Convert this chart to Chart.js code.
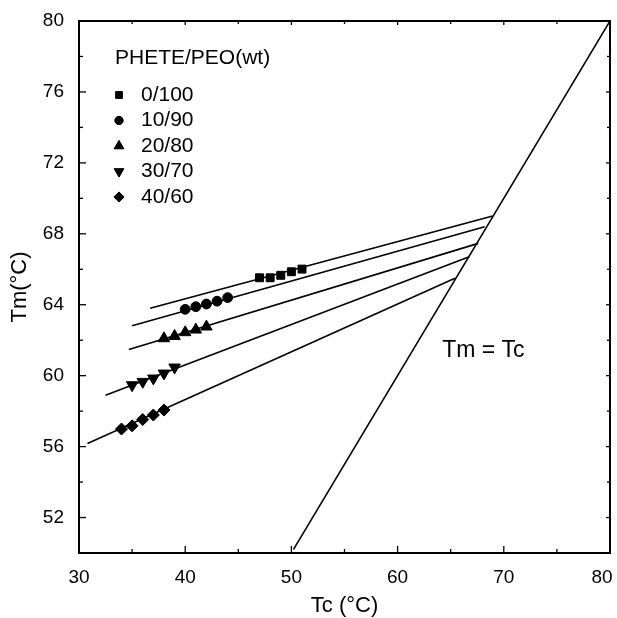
<!DOCTYPE html>
<html>
<head>
<meta charset="utf-8">
<script src="https://cdn.jsdelivr.net/npm/chart.js@4.4.1/dist/chart.umd.min.js"></script>
<style>
  html, body { margin: 0; padding: 0; background: #fff; }
</style>
</head>
<body>
<canvas id="myChart" width="617" height="618"></canvas>
<script>
// blend ratios (PHETE/PEO, wt)
const groups = ['0/100', '10/90', '20/80', '30/70', '40/60'];

// measured points: Tc (x) and Tm (y), degC
const tc0 = [47, 48, 49, 50, 51];
const tm0 = [65.52, 65.52, 65.66, 65.86, 66.01];
const tc1 = [40, 41, 42, 43, 44];
const tm1 = [63.74, 63.89, 64.04, 64.2, 64.4];
const tc2 = [38, 39, 40, 41, 42];
const tm2 = [62.1, 62.23, 62.44, 62.59, 62.76];
const tc3 = [35, 36, 37, 38, 39];
const tm3 = [59.47, 59.66, 59.85, 60.13, 60.47];
const tc4 = [34, 35, 36, 37, 38];
const tm4 = [56.99, 57.17, 57.53, 57.78, 58.06];

// Hoffman-Weeks extrapolation lines (start / end)
const fitTc0 = [36.7, 68.95];
const fitTm0 = [63.8, 69.0];
const fitTc1 = [35.0, 68.2];
const fitTm1 = [62.81, 68.4];
const fitTc2 = [34.7, 67.6];
const fitTm2 = [61.48, 67.46];
const fitTc3 = [32.5, 66.75];
const fitTm3 = [58.9, 66.7];
const fitTc4 = [30.8, 65.4];
const fitTm4 = [56.18, 65.49];

// Tm = Tc line
const eqTc = [50.2, 80];
const eqTm = [50.2, 80];

// axis ticks
const xTicks = [30, 40, 50, 60, 70, 80];
const xMinorTicks = [35, 45, 55, 65, 75];
const yTicks = [52, 56, 60, 64, 68, 72, 76, 80];
const yMinorTicks = [54, 58, 62, 66, 70, 74, 78];

const FONT = '"Liberation Sans", Arial, Helvetica, sans-serif';

const toPoints = (xs, ys) => xs.map((v, i) => ({ x: v, y: ys[i] }));

const markers = [
    { style: 'rect', radius: 5.6, rotation: 0 },
    { style: 'circle', radius: 4.9, rotation: 0 },
    { style: 'triangle', radius: 6.6, rotation: 0 },
    { style: 'triangle', radius: 6.6, rotation: 180 },
    { style: 'rectRot', radius: 6, rotation: 0 },
];

const tcs = [tc0, tc1, tc2, tc3, tc4];
const tms = [tm0, tm1, tm2, tm3, tm4];
const fitTcs = [fitTc0, fitTc1, fitTc2, fitTc3, fitTc4];
const fitTms = [fitTm0, fitTm1, fitTm2, fitTm3, fitTm4];

const datasets = [];
groups.forEach((g, i) => {
    datasets.push({
        label: g,
        data: toPoints(tcs[i], tms[i]),
        showLine: false,
        pointStyle: markers[i].style,
        pointRadius: markers[i].radius,
        pointRotation: markers[i].rotation,
        pointBackgroundColor: '#000',
        pointBorderColor: '#000',
        pointBorderWidth: 1,
    });
    datasets.push({
        label: 'fit ' + g,
        data: toPoints(fitTcs[i], fitTms[i]),
        showLine: true,
        pointRadius: 0,
        borderColor: '#000',
        borderWidth: 1.6,
    });
});
datasets.push({
    label: 'Tm = Tc',
    data: toPoints(eqTc, eqTm),
    showLine: true,
    pointRadius: 0,
    borderColor: '#000',
    borderWidth: 1.6,
});

// frame with inward ticks on all four sides
const framePlugin = {
    id: 'frame',
    afterLayout(chart) {
        // keep the last x label ("80") inside the canvas
        const items = chart.scales.x.getLabelItems(chart.chartArea);
        if (items.length) items[items.length - 1].options.translation[0] -= 8;
    },
    afterDatasetsDraw(chart) {
        const { ctx, chartArea: a, scales: { x, y } } = chart;
        ctx.save();
        ctx.strokeStyle = '#000';
        ctx.lineWidth = 2;
        ctx.strokeRect(a.left, a.top, a.right - a.left, a.bottom - a.top);
        ctx.lineWidth = 1.3;
        const tick = (x1, y1, x2, y2) => {
            ctx.beginPath();
            ctx.moveTo(x1, y1);
            ctx.lineTo(x2, y2);
            ctx.stroke();
        };
        xTicks.forEach(v => {
            const px = x.getPixelForValue(v);
            tick(px, a.bottom, px, a.bottom - 7);
            tick(px, a.top, px, a.top + 4);
        });
        xMinorTicks.forEach(v => {
            const px = x.getPixelForValue(v);
            tick(px, a.bottom, px, a.bottom - 4);
            tick(px, a.top, px, a.top + 3);
        });
        yTicks.forEach(v => {
            const py = y.getPixelForValue(v);
            tick(a.left, py, a.left + 7, py);
            tick(a.right, py, a.right - 4, py);
        });
        yMinorTicks.forEach(v => {
            const py = y.getPixelForValue(v);
            tick(a.left, py, a.left + 4, py);
            tick(a.right, py, a.right - 3, py);
        });
        ctx.restore();
    }
};

// legend box in the upper left and the Tm = Tc label
const notesPlugin = {
    id: 'notes',
    afterDraw(chart) {
        const { ctx, scales: { x, y } } = chart;
        ctx.save();
        ctx.fillStyle = '#000';
        ctx.strokeStyle = '#000';
        ctx.font = '21px ' + FONT;
        ctx.textBaseline = 'middle';
        ctx.textAlign = 'left';
        ctx.fillText('PHETE/PEO(wt)', 115, 58);
        groups.forEach((g, i) => {
            const rowY = 95 + i * 25.5;
            const m = markers[i];
            ctx.lineWidth = 1;
            Chart.helpers.drawPoint(ctx, {
                pointStyle: m.style,
                rotation: m.rotation,
                radius: m.radius * 0.85,
                borderWidth: 1,
            }, 119, rowY);
            ctx.fill();
            ctx.fillText(g, 141, rowY);
        });
        ctx.font = '23px ' + FONT;
        ctx.fillText('Tm = Tc', x.getPixelForValue(64.2), y.getPixelForValue(61.4));
        ctx.restore();
    }
};

// no extra room for half-labels at the axis ends
const noEdgePadding = s => {
    s.paddingLeft = 0;
    s.paddingRight = 0;
    s.paddingTop = 0;
    s.paddingBottom = 0;
};

const ctx = document.getElementById('myChart').getContext('2d');
const myChart = new Chart(ctx, {
    type: 'scatter',
    data: { datasets: datasets },
    options: {
        responsive: false,
        animation: false,
        layout: { autoPadding: false, padding: { top: 21, right: 7, left: 0, bottom: 0 } },
        plugins: {
            legend: { display: false },
            tooltip: { enabled: false },
        },
        scales: {
            x: {
                type: 'linear',
                min: 30,
                max: 80,
                afterBuildTicks: s => { s.ticks = xTicks.map(v => ({ value: v })); },
                afterFit: s => { s.height = 65; noEdgePadding(s); },
                grid: { display: false, drawTicks: false },
                border: { display: false },
                ticks: {
                    color: '#000',
                    padding: 13,
                    font: { family: FONT, size: 19 },
                },
                title: {
                    display: true,
                    text: 'Tc (°C)',
                    color: '#000',
                    font: { family: FONT, size: 22, lineHeight: 1 },
                    padding: { top: 0, bottom: 1 },
                },
            },
            y: {
                type: 'linear',
                min: 50,
                max: 80,
                afterBuildTicks: s => { s.ticks = yTicks.map(v => ({ value: v })); },
                afterFit: s => { s.width = 79; noEdgePadding(s); },
                grid: { display: false, drawTicks: false },
                border: { display: false },
                ticks: {
                    color: '#000',
                    padding: 15,
                    font: { family: FONT, size: 19 },
                },
                title: {
                    display: true,
                    text: 'Tm(°C)',
                    color: '#000',
                    font: { family: FONT, size: 22, lineHeight: 1 },
                    padding: { top: 9, bottom: 0 },
                },
            },
        },
    },
    plugins: [framePlugin, notesPlugin],
});
</script>
</body>
</html>
